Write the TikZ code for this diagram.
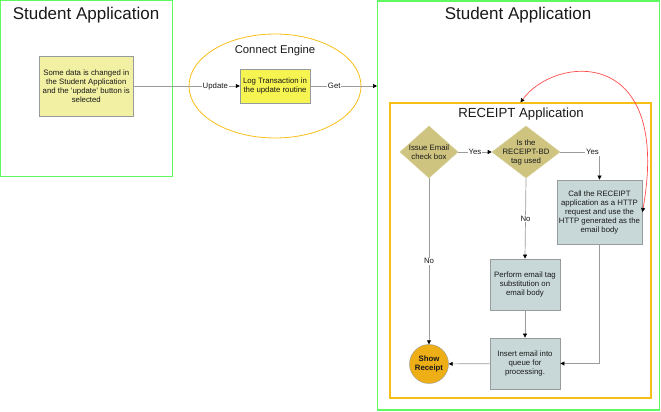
\documentclass[tikz,border=0pt]{standalone}
\usepackage{fontspec}
\setmainfont{Liberation Sans}
\usetikzlibrary{shapes.geometric,arrows.meta}
\definecolor{framegreen}{RGB}{96,250,96}
\definecolor{gold}{RGB}{248,190,24}
\definecolor{notefill}{RGB}{242,240,162}
\definecolor{logfill}{RGB}{246,244,80}
\definecolor{khaki}{RGB}{206,196,128}
\definecolor{stepfill}{RGB}{200,216,216}
\definecolor{receiptfill}{RGB}{238,174,22}
\definecolor{linegray}{RGB}{155,155,155}
\definecolor{bordergray}{RGB}{150,155,155}
\definecolor{txt}{RGB}{25,25,25}

\begin{document}
\begin{tikzpicture}[x=1pt,y=-1pt]
\tikzstyle{frame} = [draw=framegreen,line width=1.4pt,inner sep=0];
\tikzstyle{title} = [font=\fontsize{17}{20}\selectfont,text=txt];
\tikzstyle{subtitle} = [font=\fontsize{11.3}{13}\selectfont,text=txt];
\tikzstyle{small} = [font=\fontsize{7.8}{9}\selectfont,text=txt,align=center];
\tikzstyle{note} = [small,draw=bordergray,fill=notefill,inner sep=2pt];
\tikzstyle{stepbox} = [small,draw=bordergray,fill=stepfill,line width=0.8pt,inner sep=2pt];
\tikzstyle{decision} = [diamond,draw=khaki!85!white,fill=khaki,inner sep=0,line width=0.6pt];
\tikzstyle{lbl} = [small,fill=white,inner sep=0.8pt];
\tikzstyle{arr} = [draw=linegray,line width=0.7pt,-{Triangle[length=4pt,width=4pt,color=black]}];
\tikzstyle{redarr} = [draw=red!70!white,line width=0.7pt,{Triangle[length=4pt,width=4pt,color=black]}-{Triangle[length=4pt,width=4pt,color=black]}];
\useasboundingbox (0,0) rectangle (661,412);

% frames
\node [frame,minimum width=171.5pt,minimum height=175.5pt] (v1) at (86.5,88.5) {};
\node [frame,minimum width=282pt,minimum height=409pt] (v2) at (518.7,205.5) {};
\node [title] (t1) at (86,15) {Student Application};
\node [title] (t2) at (518,15) {Student Application};

% connect engine
\node [ellipse,draw=gold,line width=0.8pt,minimum width=172pt,minimum height=104pt] (v4) at (275,86) {};
\node [subtitle] (t3) at (275,51) {Connect Engine};
\node [note,minimum width=93.5pt,minimum height=60pt] (v3) at (86.3,86) {Some data is changed in\\the Student Application\\and the 'update' button is\\selected};
\node [note,fill=logfill,minimum width=70pt,minimum height=34pt] (v5) at (275,86) {Log Transaction in\\the update routine};
\coordinate (in2) at (v5.east -| v2.west);
\draw [arr] (v3) -- node [lbl,pos=0.77] {Update} (v5);
\draw [arr] (v5) -- node [lbl,pos=0.36] {Get} (in2);

% receipt application
\node [draw=gold,line width=1.1pt,minimum width=261pt,minimum height=295pt,inner sep=0] (v6) at (520.5,250.5) {};
\node [subtitle,font=\fontsize{13.2}{15}\selectfont] (t4) at (521,114) {RECEIPT Application};
\node [decision,minimum width=58pt,minimum height=52pt,label={[small]center:{Issue Email\\check box}}] (v7) at (429,152) {};
\node [decision,minimum width=68pt,minimum height=52pt,label={[small]center:{Is the\\RECEIPT-BD\\tag used}}] (v8) at (526,152) {};
\node [stepbox,minimum width=85pt,minimum height=64pt] (v9) at (599.5,212) {Call the RECEIPT\\application as a HTTP\\request and use the\\HTTP generated as the\\email body};
\node [stepbox,minimum width=70pt,minimum height=51pt] (v10) at (525,284.5) {Perform email tag\\substitution on\\email body};
\node [stepbox,minimum width=70pt,minimum height=51pt] (v11) at (525,363.5) {Insert email into\\queue for\\processing.};
\node [circle,draw=bordergray,fill=receiptfill,minimum size=39pt,inner sep=0,small] (v12) at (429,364) {\textbf{Show}\\\textbf{Receipt}};

\draw [arr] (v7) -- node [lbl] {Yes} (v8);
\draw [arr] (v8.east) -| node [lbl,pos=0.41] {Yes} (v9.north);
\draw [arr] (v8.south) -- node [lbl] {No} (v10.north);
\draw [arr] (v10) -- (v11);
\draw [arr] (v9.south) |- (v11.east);
\draw [arr] (v11) -- (v12);
\draw [arr] (v7.south) -- node [lbl] {No} (v12.north);
\draw [redarr] (v6.north) .. controls (555,55) and (672,45) .. (v9.east);
\end{tikzpicture}
\end{document}
